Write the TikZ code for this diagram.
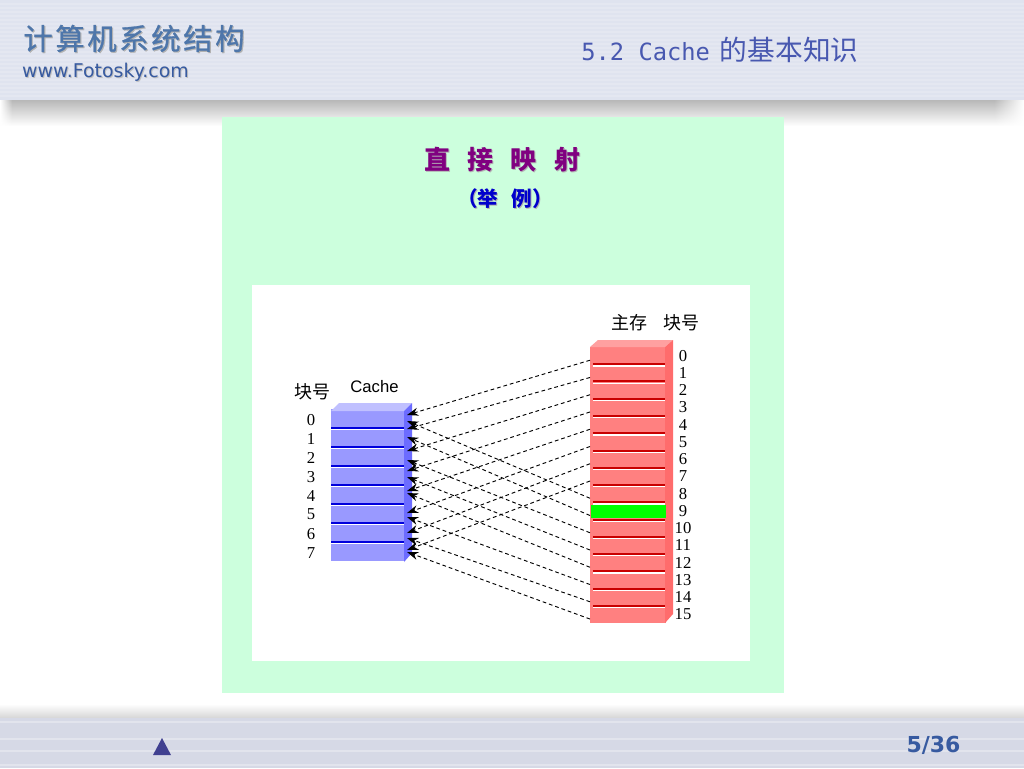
\documentclass[tikz,border=0pt]{standalone}
\usepackage{fontspec}
\usetikzlibrary{arrows.meta, positioning, fadings}
\setmainfont{Liberation Serif}
\newfontfamily\cjkfont{Noto Sans CJK SC}
\newfontfamily\latinfont{DejaVu Sans}
\newfontfamily\monofont{DejaVu Sans Mono}
\newfontfamily\labelfont{Liberation Sans}
\definecolor{barblue}{RGB}{223, 227, 239}
\definecolor{footblue}{RGB}{214, 217, 230}
\definecolor{headtext}{RGB}{72, 88, 176}
\definecolor{logoblue}{RGB}{78, 118, 170}
\definecolor{webblue}{RGB}{55, 90, 160}
\definecolor{navblue}{RGB}{64, 64, 144}
\definecolor{panelgreen}{RGB}{204, 255, 221}
\definecolor{titlepurple}{RGB}{128, 0, 128}
\definecolor{titleblue}{RGB}{0, 0, 204}
\definecolor{cachefront}{RGB}{153, 153, 255}
\definecolor{cachetop}{RGB}{192, 192, 255}
\definecolor{cacheside}{RGB}{108, 108, 255}
\definecolor{cacheline}{RGB}{0, 0, 220}
\definecolor{memfront}{RGB}{255, 128, 128}
\definecolor{memtop}{RGB}{255, 160, 160}
\definecolor{memside}{RGB}{255, 108, 108}
\definecolor{memline}{RGB}{200, 0, 0}
\definecolor{hitgreen}{RGB}{0, 255, 0}
\newcommand{\softshadow}[2]{\rlap{\raisebox{-0.8pt}{\hspace{0.8pt}\color{#1}#2}}#2}
\newcommand{\gapped}[2]{\spaceskip #1\relax #2}

\begin{document}
\begin{tikzpicture}[
    x=0.75pt, y=-0.75pt,
    cacherow/.style={fill=cachefront, inner sep=0pt, outer sep=0pt,
                     minimum width=54.75pt, minimum height=14.25pt},
    memrow/.style={fill=memfront, inner sep=0pt, outer sep=0pt,
                   minimum width=57pt, minimum height=12.94pt},
    numlabel/.style={font=\fontsize{12.5}{13}\selectfont, inner sep=0pt},
    caplabel/.style={font=\cjkfont\fontsize{13.5}{14}\selectfont, inner sep=0pt},
    link/.style={-{Stealth[length=8.5pt, width=6pt]}, black, line width=0.7pt,
                 dash pattern=on 2.8pt off 2.2pt},
    stripe/.style={white, opacity=0.16, line width=0.8pt}
  ]
  \useasboundingbox (0,0) rectangle (1024,768);
  % bars
  \shade[top color=black!28, bottom color=white] (0,100) rectangle (1024,126);
  \fill[white, path fading=west] (994,100) rectangle (1024,126);
  \fill[white, path fading=east] (0,100) rectangle (12,126);
  \shade[top color=white, bottom color=black!16] (0,704) rectangle (1024,718);
  \fill[barblue] (0,0) rectangle (1024,100);
  \fill[footblue] (0,718) rectangle (1024,768);
  \foreach \y in {4,8,...,96}
    \draw[stripe] (0,\y) -- (1024,\y);
  \foreach \y in {722,739,751,765}
    \draw[stripe, opacity=0.3] (0,\y) -- (1024,\y);
  \node[font=\cjkfont\fontsize{22}{24}\selectfont, logoblue, inner sep=0pt] (logo) at (134,39)
    {\addfontfeature{LetterSpace=9,FakeBold=1}\softshadow{black!30}{计算机系统结构}};
  \node[font=\latinfont\fontsize{14.2}{15}\selectfont, webblue, inner sep=0pt] (web) at (105.5,73)
    {\softshadow{black!25}{www.Fotosky.com}};
  \node[headtext, inner sep=0pt] (head) at (720,50)
    {\monofont\fontsize{17.8}{20}\selectfont 5.2 Cache\hspace{7.5pt}\cjkfont\fontsize{20.8}{22}\selectfont 的基本知识};
  \node[font=\latinfont\bfseries\fontsize{16.5}{18}\selectfont, webblue, inner sep=0pt] (page) at (933.5,745) {5/36};
  \fill[navblue] (153,755) -- (162,738) -- (171,755) -- cycle;
  % panel
  \fill[panelgreen] (222,117) rectangle (784,693);
  \fill[white] (252,285) rectangle (750,661);
  \node[font=\cjkfont\bfseries\fontsize{19.5}{21}\selectfont, titlepurple, inner sep=0pt] (title) at (502,160)
    {\softshadow{black!30}{\gapped{13pt}{直 接 映 射}}};
  \node[font=\cjkfont\bfseries\fontsize{15.5}{17}\selectfont, titleblue, inner sep=0pt] (sub) at (505,199)
    {\softshadow{black!30}{\gapped{10pt}{（举 例）}}};
  % cache
  \node[cacherow] (c0) at (367.5,418.5) {};
  \foreach \i [remember=\i as \p (initially 0)] in {1,...,7}
    \node[cacherow] (c\i) [below=0pt of c\p] {};
  \fill[cachetop] (331,411) -- (339,403) -- (412,403) -- (404,411) -- cycle;
  \fill[cacheside] (404,411) -- (412,403) -- (412,553) -- (404,562) -- cycle;
  \foreach \i in {0,...,6} {
    \draw[cacheline, line width=1.5pt] (c\i.south west) -- (c\i.south east);
    \draw[white, line width=0.8pt] ([yshift=-1.3pt]c\i.south west) -- ([yshift=-1.3pt]c\i.south east);
  }
  \foreach \i in {0,...,7}
    \node[numlabel] (cn\i) at ([xshift=-42.4pt,yshift=-0.8pt]c\i.center) {\i};
  \node[caplabel] (cnum) at (312,392) {块号};
  \node[font=\labelfont\fontsize{12.5}{14}\selectfont, inner sep=0pt] (cname) at (374.5,387) {Cache};
  % memory
  \node[memrow] (m0) at (628,355.6) {};
  \foreach \i [remember=\i as \p (initially 0)] in {1,...,15}
    \node[memrow] (m\i) [below=0pt of m\p] {};
  \fill[memtop] (590,347) -- (598,340) -- (673,340) -- (665,347) -- cycle;
  \fill[memside] (665,347) -- (673,340) -- (673,614) -- (665,623) -- cycle;
  \foreach \i in {0,...,14} {
    \draw[memline, line width=1.5pt] ([xshift=2.2pt]m\i.south west) -- ([xshift=-0.7pt]m\i.south east);
    \draw[white, line width=0.8pt] ([xshift=2.2pt,yshift=-1.3pt]m\i.south west) -- ([xshift=-0.7pt,yshift=-1.3pt]m\i.south east);
  }
  \node[memrow, fill=hitgreen, minimum width=56.2pt, minimum height=10pt] (hit) at ([xshift=0.4pt,yshift=-0.3pt]m9.center) {};
  \foreach \i in {0,...,15}
    \node[numlabel] (mn\i) at ([xshift=41.25pt]m\i.center) {\i};
  \node[caplabel] (mname) at (629.5,323) {主存};
  \node[caplabel] (mnum) at (681,323) {块号};
  % mapping
  \foreach \i/\y in {0/415,8/421,1/429,9/437,2/451,10/460,3/471,11/477,
                     4/491,12/493,5/513,13/517,6/533,14/538,7/550,15/552}
    \coordinate (t\i) at (407,\y);
  \foreach \i in {0,...,15}
    \draw[link] ([yshift=3pt]m\i.south west) -- (t\i);
\end{tikzpicture}
\end{document}
